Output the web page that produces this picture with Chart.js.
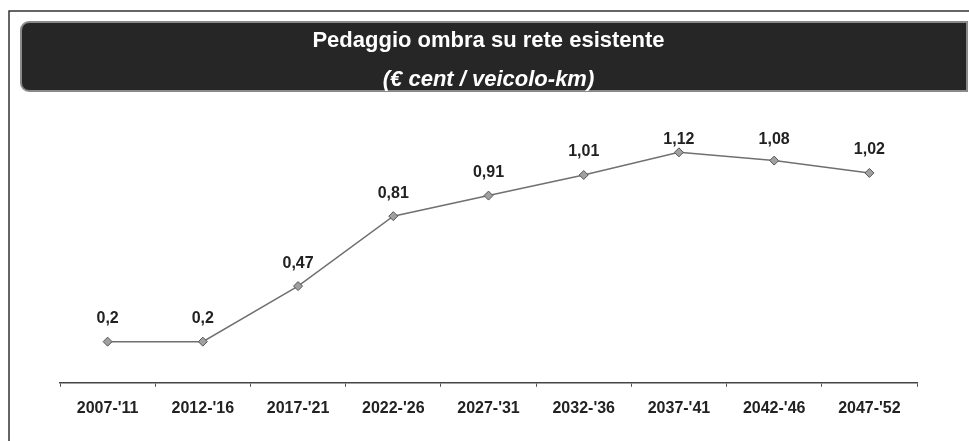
<!DOCTYPE html>
<html>
<head>
<meta charset="utf-8">
<script src="https://cdn.jsdelivr.net/npm/chart.js@4"></script>
<style>
  body { margin: 0; background: #fff; }
  #wrap { width: 969px; height: 441px; position: relative; }
</style>
</head>
<body>
<div id="wrap"><canvas id="myChart"></canvas></div>
<script>
const periodi = ["2007-'11", "2012-'16", "2017-'21", "2022-'26", "2027-'31", "2032-'36", "2037-'41", "2042-'46", "2047-'52"];
const pedaggio = [0.2, 0.2, 0.47, 0.81, 0.91, 1.01, 1.12, 1.08, 1.02];
const titolo = 'Pedaggio ombra su rete esistente';
const sottotitolo = '(€ cent / veicolo-km)';

const FONT = "'Liberation Sans', Arial, sans-serif";

// frame + dark banner behind the title
const cornice = {
  id: 'cornice',
  beforeDraw(chart) {
    const c = chart.ctx;
    c.save();
    c.strokeStyle = '#333';
    c.lineWidth = 1.5;
    c.beginPath();
    c.moveTo(9, 441);
    c.lineTo(9, 11);
    c.lineTo(969, 11);
    c.stroke();

    c.fillStyle = '#262626';
    c.strokeStyle = '#8a8a8a';
    c.lineWidth = 2;
    c.beginPath();
    c.roundRect(21, 22, 946, 69, [8, 0, 0, 8]);
    c.fill();
    c.stroke();
    c.restore();
  }
};

// value labels above the points, italian decimal comma
const etichette = {
  id: 'etichette',
  afterDatasetsDraw(chart) {
    const c = chart.ctx;
    const top = chart.chartArea.top;
    c.save();
    c.font = 'bold 16px ' + FONT;
    c.fillStyle = '#222';
    c.textAlign = 'center';
    c.textBaseline = 'middle';
    chart.getDatasetMeta(0).data.forEach((p, i) => {
      const y = Math.max(p.y - 23, top + 8);
      c.fillText(String(pedaggio[i]).replace('.', ','), p.x, y);
    });
    c.restore();
  }
};

const ctx = document.getElementById('myChart');
const grafico = new Chart(ctx, {
  type: 'line',
  data: {
    labels: periodi,
    datasets: [{
      data: pedaggio,
      borderColor: '#707070',
      borderWidth: 1.5,
      pointStyle: 'rectRot',
      pointRadius: 4.5,
      pointBackgroundColor: '#a0a0a0',
      pointBorderColor: '#555',
      pointBorderWidth: 1,
      tension: 0
    }]
  },
  options: {
    responsive: true,
    maintainAspectRatio: false,
    animation: false,
    layout: { padding: { left: 60, right: 52, top: 0, bottom: 11 } },
    plugins: {
      legend: { display: false },
      tooltip: { enabled: false },
      title: {
        display: true,
        text: titolo,
        color: '#fff',
        font: { family: FONT, size: 22, weight: 'bold' },
        padding: { top: 28, bottom: 6 }
      },
      subtitle: {
        display: true,
        text: sottotitolo,
        color: '#fff',
        font: { family: FONT, size: 22, weight: 'bold', style: 'italic' },
        padding: { top: 6, bottom: 39 }
      }
    },
    scales: {
      x: {
        offset: true,
        grid: {
          offset: true,
          drawOnChartArea: false,
          drawTicks: true,
          tickLength: 4,
          color: '#555'
        },
        border: { display: true, color: '#444', width: 1.5 },
        ticks: {
          color: '#222',
          padding: 12,
          maxRotation: 0,
          font: { family: FONT, size: 16, weight: 'bold' }
        }
      },
      y: {
        display: false,
        min: 0,
        max: 1.22
      }
    }
  },
  plugins: [cornice, etichette]
});
</script>
</body>
</html>
